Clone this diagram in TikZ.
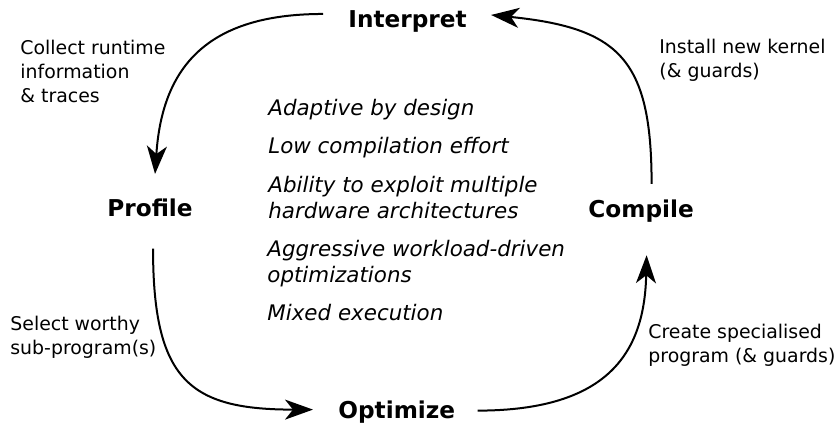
\documentclass[tikz,border=0pt]{standalone}
\usepackage{fontspec}
\setmainfont{DejaVu Sans}
\usetikzlibrary{arrows.meta}

\begin{document}
\begin{tikzpicture}[x=0.5pt,y=-0.5pt,
   stage/.style={font=\fontsize{11.6}{14}\selectfont\bfseries,inner sep=0pt,anchor=base west},
   note/.style={font=\fontsize{9.45}{12}\selectfont,align=left,inner sep=0pt,anchor=base west},
   claim/.style={font=\fontsize{10.7}{13}\selectfont\itshape,align=left,inner sep=0pt,anchor=base west},
   flow/.style={line width=1pt,-{Stealth[length=14pt,width=10pt,inset=4pt]}}]
\useasboundingbox (0,0) rectangle (839,425);

% the four stages of the loop
\node[stage] (interp) at (348,27) {Interpret};
\node[stage] (profile) at (107,216) {Profile};
\node[stage] (optim) at (338,418) {Optimize};
\node[stage] (compile) at (588,217) {Compile};

% what happens on each edge (base = last line)
\node[note] (collect) at (20,102) {Collect runtime\\information\\\& traces};
\node[note] (select) at (10,354) {Select worthy\\sub-program(s)};
\node[note] (create) at (648,362) {Create specialised\\program (\& guards)};
\node[note] (install) at (659,77) {Install new kernel\\(\& guards)};

% properties in the middle
\node[claim] (adapt) at (268,115) {Adaptive by design};
\node[claim] (effort) at (268,153) {Low compilation effort};
\node[claim] (hw) at (268,218) {Ability to exploit multiple\\hardware architectures};
\node[claim] (aggr) at (267,282) {Aggressive workload-driven\\optimizations};
\node[claim] (mixed) at (267,320) {Mixed execution};

\draw[flow] ([shift={(-25,-7)}]interp.west) .. controls +(-118,0) and +(7,-105) .. ([shift={(5,-24)}]profile.north);
\draw[flow] ([shift={(3,32)}]profile.south) .. controls +(0,132) and +(-123,0) .. ([shift={(-25,-2)}]optim.west);
\draw[flow] ([shift={(22,-1)}]optim.east) .. controls +(133,0) and +(-2,95) .. ([shift={(5.5,33)}]compile.south);
\draw[flow] ([shift={(10.5,-15)}]compile.north) .. controls +(0,-125) and +(128,13) .. ([shift={(24,-6)}]interp.east);
\end{tikzpicture}
\end{document}
